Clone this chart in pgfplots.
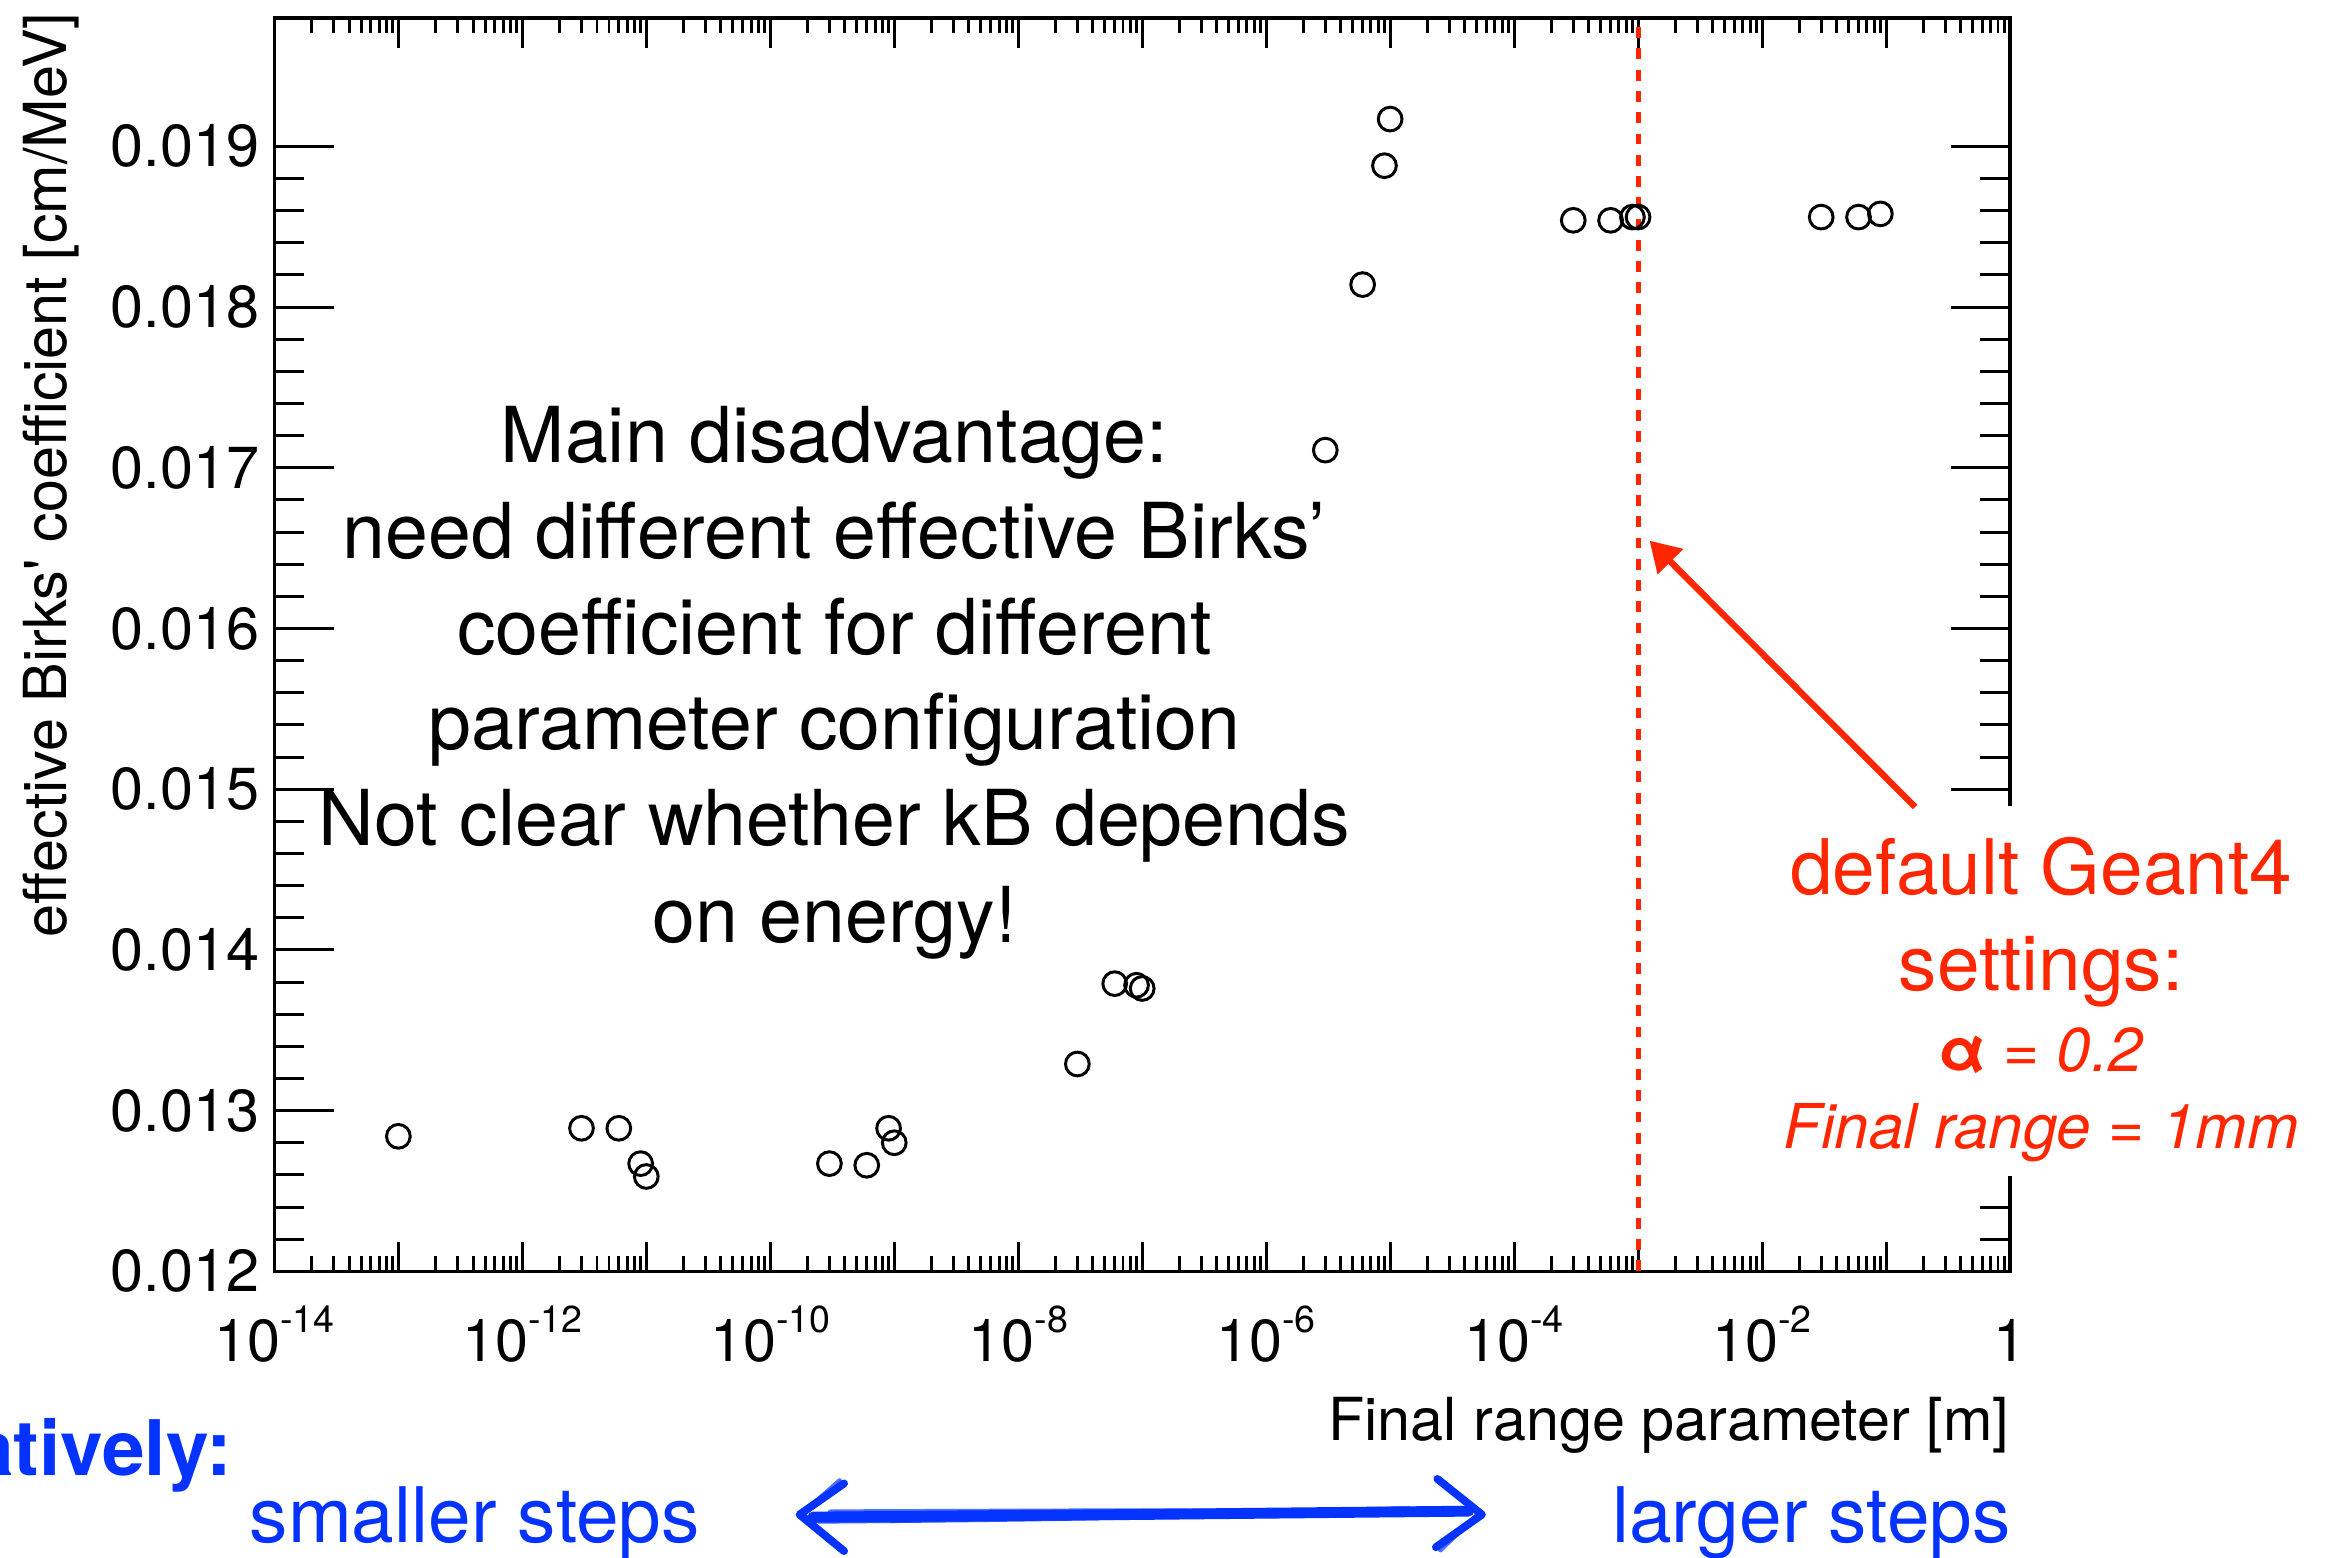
\documentclass[border=0pt]{standalone}
\usepackage{fontspec}
\setmainfont{TeX Gyre Heros}
\usepackage{pgfplots}
\pgfplotsset{compat=1.18}
\usetikzlibrary{arrows.meta}

\definecolor{annred}{HTML}{FF2600}
\definecolor{annblue}{HTML}{0433FF}

% minor ticks of the log axis: 2..9 x 10^k
\def\minorlist{}
\foreach \e in {-14,...,-1}{%
  \foreach \m in {2,...,9}{%
    \ifx\minorlist\empty
      \xdef\minorlist{\m e\e}%
    \else
      \xdef\minorlist{\minorlist,\m e\e}%
    \fi}}

% ROOT-style power-of-ten label
\newcommand\pw[1]{10\raisebox{5.9pt}{\fontsize{7.6}{8}\selectfont -#1}}

\begin{document}
\begin{tikzpicture}[x=0.3pt,y=0.3pt]
\useasboundingbox (0,0) rectangle (1568,1050);
\clip (0,0) rectangle (1568,1050);

% x ticks and labels
\begin{axis}[
  scale only axis, width=351pt, height=253.5pt,
  at={(55.5pt,57.9pt)}, anchor=south west,
  xmode=log, xmin=1e-14, xmax=1, ymin=0.012, ymax=0.0198,
  axis line style={line width=0.7pt},
  every tick/.append style={black, line width=0.6pt},
  tick align=inside,
  tick label style={font=\fontsize{12}{14}\selectfont, inner sep=0pt},
  ytick=\empty,
  xtick={1e-14,1e-13,1e-12,1e-11,1e-10,1e-9,1e-8,1e-7,1e-6,1e-5,1e-4,1e-3,1e-2,1e-1,1},
  xticklabels={\pw{14},,\pw{12},,\pw{10},,\pw{8},,\pw{6},,\pw{4},,\pw{2},,1},
  minor xtick/.expanded=\minorlist,
  major tick length=6pt, minor tick length=3pt,
  xticklabel style={anchor=base, yshift=-18.3pt},
]
\end{axis}

% y ticks, data and default-setting marker
\begin{axis}[
  scale only axis, width=351pt, height=253.5pt,
  at={(55.5pt,57.9pt)}, anchor=south west,
  xmode=log, xmin=1e-14, xmax=1, ymin=0.012, ymax=0.0198,
  axis line style={line width=0.7pt},
  every tick/.append style={black, line width=0.6pt},
  tick align=inside,
  tick label style={font=\fontsize{12}{14}\selectfont, inner sep=0pt},
  xtick=\empty,
  ytick={0.012,0.013,0.014,0.015,0.016,0.017,0.018,0.019},
  yticklabels={0.012,0.013,0.014,0.015,0.016,0.017,0.018,0.019},
  minor y tick num=4,
  major tick length=12pt, minor tick length=6pt,
  yticklabel style={anchor=east, xshift=-2.9pt},
]
\addplot[only marks, mark=o, mark size=2.4pt, draw=black,
  mark options={line width=0.6pt, black}] table {
x      y
1e-13  0.01284
3e-12  0.01289
6e-12  0.01289
9e-12  0.01267
1e-11  0.01259
3e-10  0.01267
6e-10  0.01266
9e-10  0.01289
1e-9   0.01280
3e-8   0.01329
6e-8   0.01379
9e-8   0.01378
1e-7   0.01376
3e-6   0.01711
6e-6   0.01814
9e-6   0.01888
1e-5   0.01917
3e-4   0.01854
6e-4   0.01854
9e-4   0.01856
1e-3   0.01856
3e-2   0.01856
6e-2   0.01856
9e-2   0.01858
};
\addplot[annred, line width=1.0pt, dash pattern=on 2.2pt off 2.1pt]
  coordinates {(1e-3,0.012) (1e-3,0.0198)};
\end{axis}

% axis titles
\node[font=\fontsize{12}{14}\selectfont, rotate=90, anchor=base east, inner sep=0pt]
  at (45,1042) {effective Birks\textquotesingle\ coefficient [cm/MeV]};
\node[font=\fontsize{12}{14}\selectfont, anchor=base east, inner sep=0pt]
  at (1355,79) {Final range parameter [m]};

% main comment
\begin{scope}[every node/.style={font=\fontsize{15.6}{19}\selectfont, anchor=base, inner sep=0pt}]
\node at (562.5,738.4) {Main disadvantage:};
\node at (562.5,673.5) {need different effective Birks’};
\node at (562.5,609) {coefficient for different};
\node at (562.5,545) {parameter configuration};
\node at (562.5,480) {Not clear whether kB depends};
\node at (562.5,414.5) {on energy!};
\end{scope}

% default settings, in an opaque text box
\fill[white] (1195,257) rectangle (1568,507);
\begin{scope}[every node/.style={text=annred, anchor=base, inner sep=0pt}]
\node[font=\fontsize{15.5}{18}\selectfont] at (1376,447) {default Geant4};
\node[font=\fontsize{15.5}{18}\selectfont] at (1376,382) {settings:};
\node[font=\fontsize{12.5}{15}\selectfont] at (1376,328) {\textbf{α} \textit{= 0.2}};
\node[font=\fontsize{12.5}{15}\selectfont] at (1376,276) {\textit{Final range = 1mm}};
\end{scope}
\draw[annred, line width=1.3pt, -{Triangle[length=6pt,width=7pt]}]
  (1291,506) -- (1112,685.5);

% step-size direction
\node[text=annblue, font=\bfseries\fontsize{15.5}{18}\selectfont, anchor=base east, inner sep=0pt]
  at (157,55.5) {Alternatively:};
\node[text=annblue, font=\fontsize{15.5}{18}\selectfont, anchor=base, inner sep=0pt]
  at (320,10) {smaller steps};
\node[text=annblue, font=\fontsize{15.5}{18}\selectfont, anchor=base, inner sep=0pt]
  at (1221,10) {larger steps};
\begin{scope}[annblue, line cap=round, line join=round]
  \draw[line width=2.2pt] (548,27.3) -- (760,29) -- (990,31.3);
  \draw[line width=1.4pt, opacity=0.8] (552,25.2) .. controls (700,26.5) .. (985,32.5);
  \draw[line width=1.2pt, opacity=0.7] (560,30.5) .. controls (800,31.5) .. (980,29.5);
  \draw[line width=0.8pt, opacity=0.5] (600,24.5) -- (950,33.5);
  \draw[line width=1.6pt] (569,50) -- (539,29) -- (569,4.4);
  \draw[line width=0.9pt, opacity=0.7] (566,52) -- (541,30) -- (566,6);
  \draw[line width=1.6pt] (969,53) -- (999,29) -- (968,7);
  \draw[line width=0.9pt, opacity=0.7] (972,51) -- (997,30) -- (971,5);
\end{scope}
\end{tikzpicture}
\end{document}
